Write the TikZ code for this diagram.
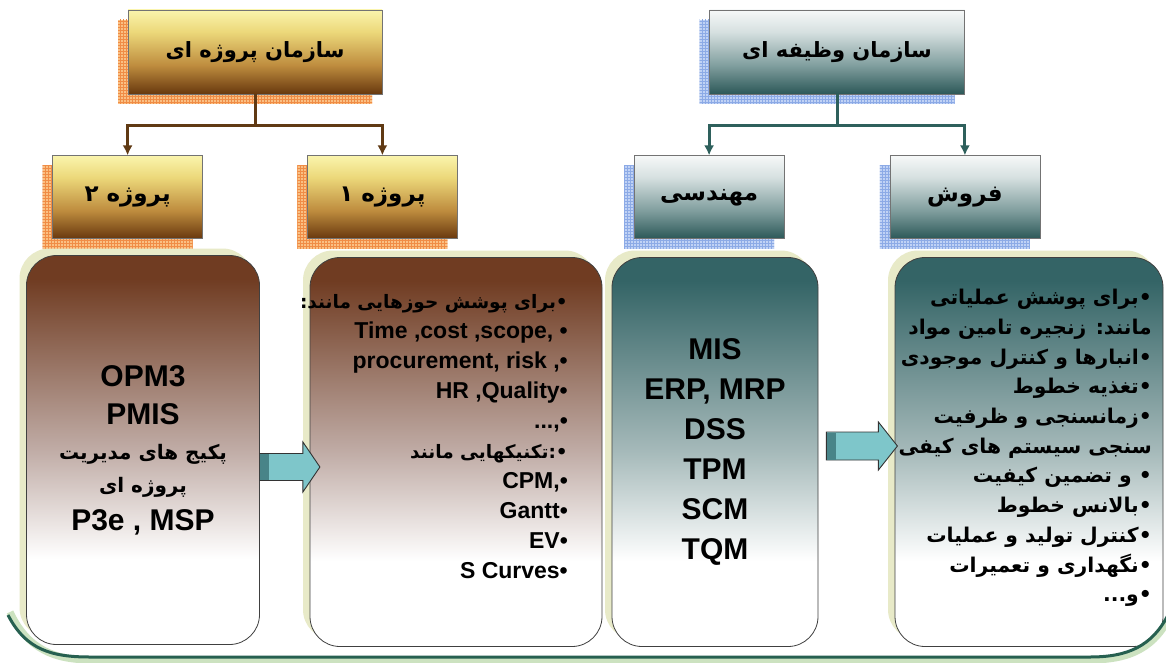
\documentclass[tikz,border=0pt]{standalone}
\usepackage{fontspec}
\setmainfont{Liberation Sans}
\newfontfamily\farsi[Script=Arabic]{DejaVu Sans}
\TeXXeTstate=1
\usetikzlibrary{shadows,patterns,positioning,calc,arrows.meta}

\definecolor{golddark}{RGB}{104,56,14}
\definecolor{goldmid}{RGB}{190,140,62}
\definecolor{goldlight}{RGB}{236,216,122}
\definecolor{goldtop}{RGB}{250,244,172}
\definecolor{tealbardark}{RGB}{44,88,88}
\definecolor{tealbarmid}{RGB}{128,158,158}
\definecolor{tealbarlight}{RGB}{214,224,224}
\definecolor{tealbartop}{RGB}{246,248,248}
\definecolor{browndark}{RGB}{112,60,34}
\definecolor{brownmid}{RGB}{192,172,166}
\definecolor{tealdark}{RGB}{52,100,102}
\definecolor{tealmid}{RGB}{166,186,186}
\definecolor{orangeshadow}{RGB}{250,192,132}
\definecolor{orangegrid}{RGB}{240,140,70}
\definecolor{blueshadow}{RGB}{192,210,245}
\definecolor{bluegrid}{RGB}{140,170,230}
\definecolor{glow}{RGB}{232,234,200}
\definecolor{projlinecol}{RGB}{96,58,20}
\definecolor{funclinecol}{RGB}{46,96,92}
\definecolor{arrowfill}{RGB}{126,198,202}
\definecolor{arrowband}{RGB}{72,132,136}
\definecolor{baselinecol}{RGB}{38,96,80}
\definecolor{baseglow}{RGB}{204,226,192}

\pgfdeclareverticalshading{goldbar}{100bp}{color(0bp)=(golddark); color(25bp)=(golddark); color(42bp)=(goldmid); color(62bp)=(goldlight); color(75bp)=(goldtop); color(100bp)=(goldtop)}
\pgfdeclareverticalshading{tealbar}{100bp}{color(0bp)=(tealbardark); color(25bp)=(tealbardark); color(42bp)=(tealbarmid); color(62bp)=(tealbarlight); color(75bp)=(tealbartop); color(100bp)=(tealbartop)}
\pgfdeclareverticalshading{brownfade}{100bp}{color(0bp)=(white); color(36bp)=(white); color(50bp)=(brownmid); color(72bp)=(browndark); color(100bp)=(browndark)}
\pgfdeclareverticalshading{tealfade}{100bp}{color(0bp)=(white); color(36bp)=(white); color(50bp)=(tealmid); color(72bp)=(tealdark); color(100bp)=(tealdark)}

\newcommand{\faline}[1]{{\farsi\beginR #1\endR}}

\begin{document}
\begin{tikzpicture}
  [x=1pt,y=-1pt,
   orgbox/.style={
     draw=black!55,
     line width=0.8pt,
     inner sep=0pt,
     shade,
     font=\farsi\bfseries\fontsize{21}{26}\selectfont
     },
   projbox/.style={
     orgbox,
     shading=goldbar,
     general shadow={shadow xshift=-10pt, shadow yshift=-10pt, fill=orangeshadow},
     general shadow={shadow xshift=-10pt, shadow yshift=-10pt, pattern=grid, pattern color=orangegrid}
     },
   funcbox/.style={
     orgbox,
     shading=tealbar,
     general shadow={shadow xshift=-10pt, shadow yshift=-10pt, fill=blueshadow},
     general shadow={shadow xshift=-10pt, shadow yshift=-10pt, pattern=grid, pattern color=bluegrid}
     },
   listbox/.style={
     draw=black!75,
     line width=0.8pt,
     rounded corners=30pt,
     minimum height=389pt,
     inner sep=0pt,
     align=center,
     shade,
     general shadow={shadow xshift=-7pt, shadow yshift=7pt, fill=glow}
     },
   projline/.style={draw=projlinecol, line width=3pt, -{Latex[length=10pt,width=10pt]}},
   funcline/.style={draw=funclinecol, line width=3pt, -{Latex[length=10pt,width=10pt]}},
   blockarrow/.style={fill=arrowfill, draw=black!80, line width=0.9pt, line join=miter}
  ]
  \fill[white] (0,0) rectangle (1166,663);
  \useasboundingbox (0,0) rectangle (1166,663);

  % ORGANISATIONS
  \node [projbox, minimum width=254pt, minimum height=84pt] (projectorg) at (255,52) {\faline{سازمان پروژه ای}};
  \node [funcbox, minimum width=255pt, minimum height=84pt] (functionalorg) at (837,52) {\faline{سازمان وظیفه ای}};

  % UNITS
  \node [projbox, minimum width=150pt, minimum height=83pt, below=61pt of projectorg.south west, anchor=north, font=\farsi\bfseries\fontsize{23}{26}\selectfont] (project2) {\faline{پروژه ۲}};
  \node [projbox, minimum width=150pt, minimum height=83pt, below=61pt of projectorg.south east, anchor=north, font=\farsi\bfseries\fontsize{23}{26}\selectfont] (project1) {\faline{پروژه ۱}};
  \node [funcbox, minimum width=150pt, minimum height=83pt, below=61pt of functionalorg.south west, anchor=north, font=\farsi\bfseries\fontsize{23}{26}\selectfont] (engineering) {\faline{مهندسی}};
  \node [funcbox, minimum width=150pt, minimum height=83pt, below=61pt of functionalorg.south east, anchor=north, font=\farsi\bfseries\fontsize{23}{26}\selectfont] (sales) {\faline{فروش}};

  \draw[projline] (projectorg.south) -- ++(0,31) -| (project2.north);
  \draw[projline] (projectorg.south) -- ++(0,31) -| (project1.north);
  \draw[funcline] (functionalorg.south) -- ++(0,31) -| (engineering.north);
  \draw[funcline] (functionalorg.south) -- ++(0,31) -| (sales.north);

  % LISTS
  \node [listbox, shading=brownfade, minimum width=233pt, font=\bfseries\fontsize{30}{42}\selectfont] (projtwolist) at (143,450)
    {OPM3\\[-4pt]
     PMIS\\[-7pt]
     {\farsi\fontsize{20}{30}\selectfont\beginR پکیج های مدیریت\endR}\\[-9pt]
     {\farsi\fontsize{20}{30}\selectfont\beginR پروژه ای\endR}\\[-4pt]
     P3e , MSP};
  \node [listbox, shading=brownfade, minimum width=292pt] (projonelist) at (456,452) {};
  \node [listbox, shading=tealfade, minimum width=206pt, font=\bfseries\fontsize{30}{40}\selectfont] (englist) at (715,452)
    {MIS\\ERP, MRP\\DSS\\TPM\\SCM\\TQM};
  \node [listbox, shading=tealfade, minimum width=268pt] (saleslist) at (1029,452) {};

  \node [anchor=east, align=right, inner sep=0pt, font=\bfseries\fontsize{23}{30}\selectfont] (projoneitems) at (568,437)
    {{\farsi\fontsize{18.5}{30}\selectfont\beginR •برای پوشش حوزهایی مانند:\endR}\\
     Time ,cost ,scope, •\\
     procurement, risk ,•\\
     HR ,Quality•\\
     ...,•\\
     {\farsi\fontsize{18.5}{30}\selectfont\beginR •:تکنیکهایی مانند\endR}\\
     CPM,•\\
     Gantt•\\
     EV•\\
     S Curves•};

  \node [anchor=east, align=right, inner sep=0pt, font=\farsi\bfseries\fontsize{20.3}{29.7}\selectfont] (salesitems) at (1152,448)
    {\beginR •برای پوشش عملیاتی\endR\\
     \beginR مانند: زنجیره تامین مواد\endR\hspace*{8pt}\\
     \beginR •انبارها و کنترل موجودی\endR\\
     \beginR •تغذیه خطوط\endR\\
     \beginR •زمانسنجی و ظرفیت\endR\\
     \beginR سنجی سیستم های کیفی\endR\hspace*{3pt}\\
     \beginR • و تضمین کیفیت\endR\\
     \beginR •بالانس خطوط\endR\\
     \beginR •کنترل تولید و عملیات\endR\\
     \beginR •نگهداری و تعمیرات\endR\\
     \beginR •و...\endR};

  % BLOCK ARROWS
  \draw[blockarrow] ($(projtwolist.east)+(0,3.5)$) -- ++(43,0) -- ++(0,-11.5) -- ++(17,25) -- ++(-17,25) -- ++(0,-11.5) -- ++(-43,0) -- cycle;
  \fill[arrowband] ($(projtwolist.east)+(0.5,4)$) rectangle ++(9,26);
  \draw[blockarrow] ($(englist.east)+(8,-20)$) -- ++(52,0) -- ++(0,-10) -- ++(19,24) -- ++(-19,24) -- ++(0,-10) -- ++(-52,0) -- cycle;
  \fill[arrowband] ($(englist.east)+(8.5,-19.5)$) rectangle ++(9,27);

  % BASE LINE
  \draw[baseglow, line width=7pt] (10,612) .. controls (28,650) and (55,660) .. (92,660) -- (1090,660) .. controls (1130,660) and (1156,648) .. (1172,612);
  \draw[baselinecol, line width=3pt] (8,615) .. controls (26,650) and (52,657) .. (90,657) -- (1090,657) .. controls (1128,657) and (1152,646) .. (1168,615);
\end{tikzpicture}
\end{document}
